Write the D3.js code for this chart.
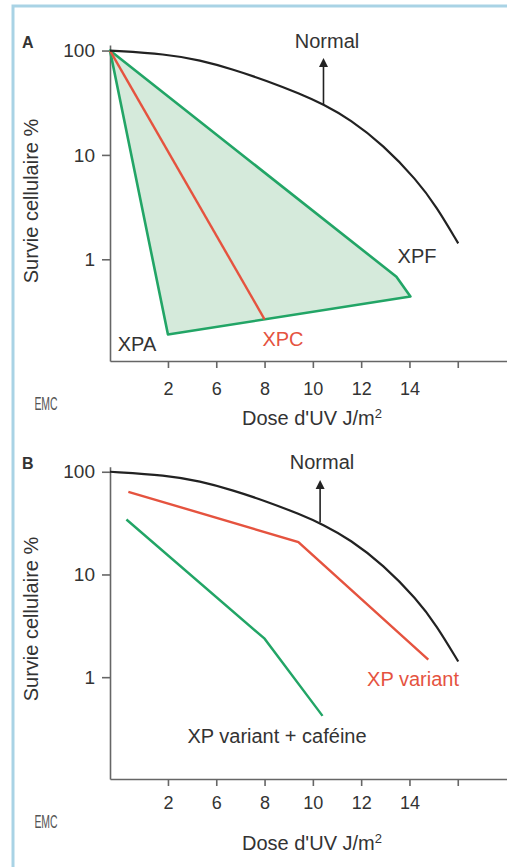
<!DOCTYPE html>
<html lang="fr">
<head>
    <meta charset="UTF-8">
    <title>Survie cellulaire - Dose d'UV</title>
    <script src="https://d3js.org/d3.v7.min.js"></script>
    <style>
        body { margin: 0; background: #fff; }
        text { font-family: "Liberation Sans", Arial, sans-serif; fill: #333; }
    </style>
</head>
<body>
<script>
    // tick positions are evenly spaced, labels are not
    var doseLabels = ["2", "6", "8", "10", "12", "14", ""];
    var survieTicks = [1, 10, 100];

    // normal curve (same in both panels), x = tick position (1 = "2", 2 = "6", ...)
    var normalX = [-0.2, 0.97, 1.66, 2.35, 3.04, 3.73, 4.22, 4.77, 5.46, 6.15, 6.56, 7.01];
    var normalY = [100, 92.5, 81, 66, 51.4, 38.6, 30.5, 21.9, 12.4, 5.75, 3.19, 1.42];

    // panel A
    var xpZoneX = [-0.2, 5.73, 6.02, 1.0];
    var xpZoneY = [100, 0.68, 0.44, 0.19];
    var xpcX = [-0.2, 3.0];
    var xpcY = [100, 0.266];

    // panel B
    var variantX = [0.18, 3.70, 6.39];
    var variantY = [63.8, 20.7, 1.48];
    var cafeineX = [0.14, 3.0, 4.2];
    var cafeineY = [34.3, 2.37, 0.42];

    var width = 507, height = 867;
    var green = "#22a566", red = "#e5533f", axisColor = "#666";

    var svg = d3.select("body").append("svg")
        .attr("width", width)
        .attr("height", height);

    // frame
    svg.append("path")
        .attr("d", "M13," + height + "V6H" + width)
        .attr("fill", "none")
        .attr("stroke", "#a9d3e5")
        .attr("stroke-width", 3);

    var x = d3.scaleLinear().domain([-0.2, 8.02]).range([110, 110 + 8.22 * 48.3]);

    function zip(xs, ys) {
        return xs.map(function(d, i) { return [d, ys[i]]; });
    }

    function drawPanel(cfg) {
        var y = d3.scaleLog().domain(cfg.yDomain).range(cfg.yRange);
        var g = svg.append("g");

        var line = d3.line()
            .x(function(d) { return x(d[0]); })
            .y(function(d) { return y(d[1]); });

        // axes
        var xAxis = g.append("g")
            .attr("transform", "translate(0," + cfg.yRange[0] + ")")
            .call(d3.axisBottom(x)
                .tickValues(d3.range(1, 8))
                .tickFormat(function(d) { return doseLabels[d - 1]; })
                .tickSize(7)
                .tickSizeOuter(0)
                .tickPadding(cfg.xPad));
        var yAxis = g.append("g")
            .attr("transform", "translate(110,0)")
            .call(d3.axisLeft(y)
                .tickValues(survieTicks)
                .tickFormat(d3.format("d"))
                .tickSize(8)
                .tickSizeOuter(0)
                .tickPadding(7));
        [xAxis, yAxis].forEach(function(a) {
            a.selectAll("path, line").attr("stroke", axisColor).attr("stroke-width", 1.6);
            a.selectAll("text").attr("fill", "#333");
        });
        xAxis.selectAll("text").style("font-size", "18px");
        yAxis.selectAll("text").style("font-size", "19px");

        cfg.marks(g, y, line);

        // normal curve + arrow
        g.append("path")
            .datum(zip(normalX, normalY))
            .attr("d", line.curve(d3.curveBasis))
            .attr("fill", "none")
            .attr("stroke", "#222")
            .attr("stroke-width", 2.2);
        line.curve(d3.curveLinear);

        var ax = x(cfg.arrow[0]);
        g.append("line")
            .attr("x1", ax).attr("x2", ax)
            .attr("y1", y(cfg.arrow[1])).attr("y2", y(cfg.arrow[2]) + 7)
            .attr("stroke", "#222").attr("stroke-width", 1.6);
        g.append("path")
            .attr("d", "M" + ax + "," + y(cfg.arrow[2]) + "l-4.5,9h9z")
            .attr("fill", "#222");

        // labels
        g.append("text")
            .attr("x", 22).attr("y", cfg.letterY)
            .style("font-size", "16px").style("font-weight", "bold")
            .attr("fill", "#111")
            .text(cfg.letter);

        cfg.labels.forEach(function(l) {
            g.append("text")
                .attr("x", l.x).attr("y", l.y)
                .attr("text-anchor", "middle")
                .style("font-size", "20px")
                .style("fill", l.color || "#333")
                .text(l.text);
        });

        g.append("text")
            .attr("transform", "translate(38," + cfg.yTitle + ")rotate(-90)")
            .attr("text-anchor", "middle")
            .style("font-size", "20px")
            .text("Survie cellulaire %");

        var t = g.append("text")
            .attr("x", 312).attr("y", cfg.xTitle)
            .attr("text-anchor", "middle")
            .style("font-size", "20px")
            .text("Dose d'UV J/m");
        t.append("tspan")
            .attr("dy", -7)
            .style("font-size", "13px")
            .text("2");

        // EMC mark
        g.append("text")
            .attr("transform", "translate(46," + cfg.logoY + ")scale(0.55,1)")
            .attr("text-anchor", "middle")
            .style("font-size", "19px")
            .style("fill", "#555")
            .text("EMC");
    }

    drawPanel({
        letter: "A", letterY: 48,
        yDomain: [0.106, 113], yRange: [361, 45],
        xPad: 14, yTitle: 201, xTitle: 425, logoY: 410,
        arrow: [4.22, 30.5, 85],
        labels: [
            {text: "Normal", x: 327, y: 48},
            {text: "XPF", x: 417, y: 263},
            {text: "XPA", x: 137, y: 351},
            {text: "XPC", x: 283, y: 346, color: red}
        ],
        marks: function(g, y, line) {
            g.append("path")
                .datum(zip(xpZoneX, xpZoneY))
                .attr("d", function(d) { return line(d) + "Z"; })
                .attr("fill", "#d5eadb")
                .attr("stroke", green)
                .attr("stroke-width", 2.6)
                .attr("stroke-linejoin", "round");
            g.append("path")
                .datum(zip(xpcX, xpcY))
                .attr("d", line)
                .attr("fill", "none")
                .attr("stroke", red)
                .attr("stroke-width", 2.4);
        }
    });

    drawPanel({
        letter: "B", letterY: 469,
        yDomain: [0.102, 112], yRange: [779, 466.7],
        xPad: 10, yTitle: 619, xTitle: 850, logoY: 828,
        arrow: [4.15, 32, 83],
        labels: [
            {text: "Normal", x: 322, y: 469},
            {text: "XP variant", x: 413, y: 686, color: red},
            {text: "XP variant + caféine", x: 277, y: 743}
        ],
        marks: function(g, y, line) {
            g.append("path")
                .datum(zip(variantX, variantY))
                .attr("d", line)
                .attr("fill", "none")
                .attr("stroke", red)
                .attr("stroke-width", 2.4);
            g.append("path")
                .datum(zip(cafeineX, cafeineY))
                .attr("d", line)
                .attr("fill", "none")
                .attr("stroke", green)
                .attr("stroke-width", 2.4);
        }
    });
</script>
</body>
</html>
